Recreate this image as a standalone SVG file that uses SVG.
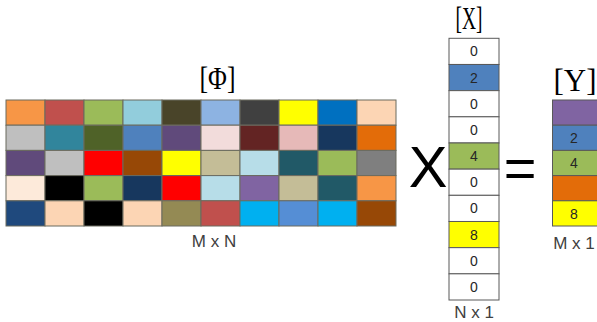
<svg xmlns="http://www.w3.org/2000/svg" width="597" height="322" viewBox="0 0 597 322">
<style>
.c{stroke:#6b6b5f;stroke-width:1}
.xc{stroke:#595959;stroke-width:1}
.br{font-family:"Liberation Serif",serif;font-size:31px;fill:#000;text-anchor:middle}
.dim{font-family:"Liberation Sans",Arial,sans-serif;font-size:17px;fill:#404040;text-anchor:middle}
.num{font-family:"Liberation Sans",Arial,sans-serif;font-size:14px;fill:#262626;text-anchor:middle}
.op{font-family:"Liberation Sans",Arial,sans-serif;fill:#000;text-anchor:middle}
</style>
<rect width="597" height="322" fill="#fff"/>
<g id="phi">
<g class="c">
<rect x="6" y="100" width="39" height="25.2" fill="#F79646"/>
<rect x="45" y="100" width="39" height="25.2" fill="#C0504D"/>
<rect x="84" y="100" width="39" height="25.2" fill="#9BBB59"/>
<rect x="123" y="100" width="39" height="25.2" fill="#92CDDC"/>
<rect x="162" y="100" width="39" height="25.2" fill="#494429"/>
<rect x="201" y="100" width="39" height="25.2" fill="#8DB3E2"/>
<rect x="240" y="100" width="39" height="25.2" fill="#404040"/>
<rect x="279" y="100" width="39" height="25.2" fill="#FFFF00"/>
<rect x="318" y="100" width="39" height="25.2" fill="#0070C0"/>
<rect x="357" y="100" width="39" height="25.2" fill="#FCD5B4"/>

<rect x="6" y="125.2" width="39" height="25.2" fill="#BFBFBF"/>
<rect x="45" y="125.2" width="39" height="25.2" fill="#31859C"/>
<rect x="84" y="125.2" width="39" height="25.2" fill="#4F6228"/>
<rect x="123" y="125.2" width="39" height="25.2" fill="#4F81BD"/>
<rect x="162" y="125.2" width="39" height="25.2" fill="#604A7B"/>
<rect x="201" y="125.2" width="39" height="25.2" fill="#F2DCDB"/>
<rect x="240" y="125.2" width="39" height="25.2" fill="#632423"/>
<rect x="279" y="125.2" width="39" height="25.2" fill="#E6B9B8"/>
<rect x="318" y="125.2" width="39" height="25.2" fill="#17375E"/>
<rect x="357" y="125.2" width="39" height="25.2" fill="#E36C09"/>

<rect x="6" y="150.4" width="39" height="25.2" fill="#604A7B"/>
<rect x="45" y="150.4" width="39" height="25.2" fill="#BFBFBF"/>
<rect x="84" y="150.4" width="39" height="25.2" fill="#FF0000"/>
<rect x="123" y="150.4" width="39" height="25.2" fill="#974806"/>
<rect x="162" y="150.4" width="39" height="25.2" fill="#FFFF00"/>
<rect x="201" y="150.4" width="39" height="25.2" fill="#C4BD97"/>
<rect x="240" y="150.4" width="39" height="25.2" fill="#B7DDE8"/>
<rect x="279" y="150.4" width="39" height="25.2" fill="#215967"/>
<rect x="318" y="150.4" width="39" height="25.2" fill="#9BBB59"/>
<rect x="357" y="150.4" width="39" height="25.2" fill="#7F7F7F"/>

<rect x="6" y="175.6" width="39" height="25.2" fill="#FDEADA"/>
<rect x="45" y="175.6" width="39" height="25.2" fill="#000000"/>
<rect x="84" y="175.6" width="39" height="25.2" fill="#9BBB59"/>
<rect x="123" y="175.6" width="39" height="25.2" fill="#17375E"/>
<rect x="162" y="175.6" width="39" height="25.2" fill="#FF0000"/>
<rect x="201" y="175.6" width="39" height="25.2" fill="#B7DDE8"/>
<rect x="240" y="175.6" width="39" height="25.2" fill="#8064A2"/>
<rect x="279" y="175.6" width="39" height="25.2" fill="#C4BD97"/>
<rect x="318" y="175.6" width="39" height="25.2" fill="#215967"/>
<rect x="357" y="175.6" width="39" height="25.2" fill="#F79646"/>

<rect x="6" y="200.8" width="39" height="25.2" fill="#1F497D"/>
<rect x="45" y="200.8" width="39" height="25.2" fill="#FCD5B4"/>
<rect x="84" y="200.8" width="39" height="25.2" fill="#000000"/>
<rect x="123" y="200.8" width="39" height="25.2" fill="#FCD5B4"/>
<rect x="162" y="200.8" width="39" height="25.2" fill="#948A54"/>
<rect x="201" y="200.8" width="39" height="25.2" fill="#C0504D"/>
<rect x="240" y="200.8" width="39" height="25.2" fill="#00B0F0"/>
<rect x="279" y="200.8" width="39" height="25.2" fill="#558ED5"/>
<rect x="318" y="200.8" width="39" height="25.2" fill="#00B0F0"/>
<rect x="357" y="200.8" width="39" height="25.2" fill="#974806"/>
</g>
<text class="br" x="217.5" y="89" textLength="36" lengthAdjust="spacingAndGlyphs">[Φ]</text>
<text class="dim" x="214" y="247">M x N</text>
</g>
<g id="times">
<text class="op" x="428" y="187" font-size="58">X</text>
</g>
<g id="x">
<g class="xc">
<rect x="449" y="38.3" width="50" height="26.17" fill="#fff"/>
<rect x="449" y="64.47" width="50" height="26.17" fill="#4F81BD"/>
<rect x="449" y="90.64" width="50" height="26.17" fill="#fff"/>
<rect x="449" y="116.81" width="50" height="26.17" fill="#fff"/>
<rect x="449" y="142.98" width="50" height="26.17" fill="#9BBB59"/>
<rect x="449" y="169.15" width="50" height="26.17" fill="#fff"/>
<rect x="449" y="195.32" width="50" height="26.17" fill="#fff"/>
<rect x="449" y="221.49" width="50" height="26.17" fill="#FFFF00"/>
<rect x="449" y="247.66" width="50" height="26.17" fill="#fff"/>
<rect x="449" y="273.83" width="50" height="26.17" fill="#fff"/>
</g>
<g class="num">
<text x="474" y="56.4">0</text>
<text x="474" y="82.6">2</text>
<text x="474" y="108.7">0</text>
<text x="474" y="134.9">0</text>
<text x="474" y="161.1">4</text>
<text x="474" y="187.2">0</text>
<text x="474" y="213.4">0</text>
<text x="474" y="239.6">8</text>
<text x="474" y="265.8">0</text>
<text x="474" y="291.9">0</text>
</g>
<text class="br" x="469" y="29" textLength="27" lengthAdjust="spacingAndGlyphs">[X]</text>
<text class="dim" x="474" y="318">N x 1</text>
</g>
<g id="equals">
<text class="op" x="520" y="187" font-size="56">=</text>
</g>
<g id="y">
<g class="xc">
<rect x="552.5" y="100" width="50" height="25.2" fill="#8064A2"/>
<rect x="552.5" y="125.2" width="50" height="25.2" fill="#4F81BD"/>
<rect x="552.5" y="150.4" width="50" height="25.2" fill="#9BBB59"/>
<rect x="552.5" y="175.6" width="50" height="25.2" fill="#E36C09"/>
<rect x="552.5" y="200.8" width="50" height="25.2" fill="#FFFF00"/>
</g>
<g class="num">
<text x="574" y="143">2</text>
<text x="574" y="168">4</text>
<text x="574" y="218.5">8</text>
</g>
<text class="br" x="575" y="91" font-size="27">[Y]</text>
<text class="dim" x="574" y="249">M x 1</text>
</g>
</svg>
